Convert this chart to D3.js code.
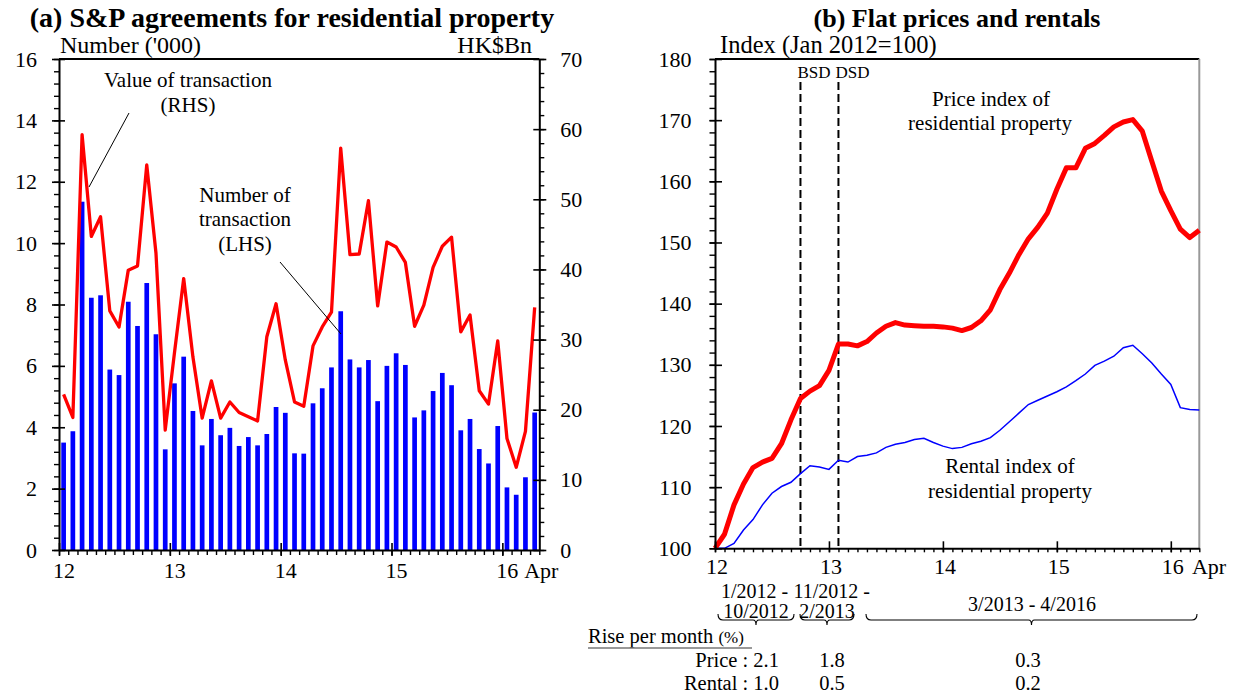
<!DOCTYPE html>
<html>
<head>
<meta charset="utf-8">
<script src="https://cdn.jsdelivr.net/npm/d3@7"></script>
<style>
  body { margin: 0; background: #fff; }
  svg text { font-family: "Liberation Serif", "Times New Roman", serif; fill: #000; }
</style>
</head>
<body>
<svg id="chart" width="1235" height="695"></svg>
<script>
// Monthly observations, Jan 2012 – Apr 2016
const months = d3.timeMonth.range(new Date(2012, 0, 1), new Date(2016, 4, 1));
const yearLabels = ["12", "13", "14", "15", "16"];

// (a) Number of S&P agreements ('000, LHS)
const transNumber = [
  3.50, 3.87, 11.35, 8.22, 8.30, 5.88, 5.70, 8.09, 7.30, 8.70, 7.03, 3.28,
  5.43, 6.30, 4.53, 3.41, 4.27, 3.74, 3.98, 3.39, 3.68, 3.41, 3.78, 4.66,
  4.47, 3.15, 3.14, 4.78, 5.27, 5.95, 7.78, 6.21, 5.95, 6.19, 4.85, 6.00,
  6.41, 6.03, 4.32, 4.55, 5.18, 5.77, 5.37, 3.90, 4.27, 3.29, 2.82, 4.04,
  2.04, 1.80, 2.37, 4.48
];
// (a) Value of S&P agreements (HK$Bn, RHS)
const transValue = [
  22.2, 18.9, 59.2, 44.7, 47.5, 34.1, 31.8, 39.9, 40.5, 54.9, 42.3, 17.1,
  28.1, 38.7, 27.5, 18.8, 24.1, 18.8, 21.1, 19.6, 19.0, 18.4, 30.4, 35.1,
  27.1, 21.1, 20.5, 29.1, 31.8, 33.9, 57.3, 42.1, 42.2, 49.8, 34.8, 43.9,
  43.2, 41.0, 31.9, 34.9, 40.3, 43.3, 44.6, 31.1, 33.5, 22.7, 20.8, 29.8,
  15.9, 11.8, 16.9, 34.6
];
// (b) Price index of residential property (Jan 2012 = 100)
const priceIndex = [
  100.0, 102.3, 107.1, 110.5, 113.2, 114.1, 114.7, 117.1, 121.0, 124.5, 125.7, 126.6,
  129.1, 133.4, 133.4, 133.1, 133.8, 135.2, 136.3, 136.9, 136.5, 136.4, 136.3, 136.3,
  136.2, 136.0, 135.6, 136.1, 137.2, 139.0, 142.3, 145.0, 148.0, 150.6, 152.5, 154.8,
  158.7, 162.2, 162.2, 165.4, 166.2, 167.5, 168.9, 169.7, 170.1, 168.2, 163.3, 158.4,
  155.2, 152.2, 150.8, 152.0
];
// (b) Rental index of residential property (Jan 2012 = 100)
const rentalIndex = [
  100.0, 100.0, 100.8, 103.0, 104.7, 107.1, 109.0, 110.1, 110.8, 112.2, 113.5, 113.3,
  112.9, 114.4, 114.1, 115.0, 115.2, 115.6, 116.5, 117.0, 117.3, 117.8, 118.0, 117.3,
  116.7, 116.3, 116.5, 117.1, 117.5, 118.1, 119.3, 120.7, 122.1, 123.5, 124.2, 124.9,
  125.6, 126.4, 127.4, 128.5, 129.9, 130.6, 131.4, 132.8, 133.2, 131.8, 130.3, 128.5,
  126.8, 123.0, 122.7, 122.6
];

const numberTicks = [0, 2, 4, 6, 8, 10, 12, 14, 16];
const valueTicks = [0, 10, 20, 30, 40, 50, 60, 70];
const indexTicks = [100, 110, 120, 130, 140, 150, 160, 170, 180];

// Stamp duty measures (month index from Jan 2012)
const measures = [{ name: "BSD", month: 9 }, { name: "DSD", month: 13 }];

// Average monthly rise over each period (%)
const periodFrom = ["1/2012 -", "11/2012 -"];
const periodTo = ["10/2012", "2/2013"];
const periodLong = "3/2013 - 4/2016";
const priceRise = ["2.1", "1.8", "0.3"];
const rentalRise = ["1.0", "0.5", "0.2"];

const FONT = '"Liberation Serif", "Times New Roman", serif';
const svg = d3.select("#chart");

function styleAxis(g, size) {
  g.attr("font-family", FONT).attr("font-size", size);
  g.selectAll("text").attr("fill", "#000");
  g.select(".domain").attr("stroke", "#000").attr("stroke-width", 2);
  g.selectAll(".tick line").attr("stroke", "#000").attr("stroke-width", 1.6);
}
function minorAxis(g) {
  g.select(".domain").remove();
  g.selectAll(".tick line").attr("stroke", "#000").attr("stroke-width", 1.4);
}

// ---------------- Panel (a) ----------------
const xa = d3.scaleLinear().domain([0, months.length]).range([59, 539.3]);
const ya = d3.scaleLinear().domain([0, 16]).range([550, 59]);
const yaR = d3.scaleLinear().domain([0, 70]).range([550, 59]);
const ga = svg.append("g");

ga.append("text").attr("x", 292).attr("y", 27).attr("text-anchor", "middle")
  .attr("font-size", 28).attr("font-weight", "bold")
  .text("(a) S&P agreements for residential property");
ga.append("text").attr("x", 60).attr("y", 53).attr("font-size", 24).text("Number ('000)");
ga.append("text").attr("x", 532).attr("y", 53).attr("text-anchor", "end").attr("font-size", 24).text("HK$Bn");

const barW = 4.7;
ga.selectAll("rect.bar").data(transNumber).join("rect").attr("class", "bar")
  .attr("x", (d, i) => xa(i + 0.5) - barW / 2)
  .attr("y", d => ya(d))
  .attr("width", barW)
  .attr("height", d => ya(0) - ya(d))
  .attr("fill", "#0000ff");

ga.append("path").datum(transValue)
  .attr("d", d3.line().x((d, i) => xa(i + 0.5)).y(d => yaR(d)))
  .attr("fill", "none").attr("stroke", "#ff0000").attr("stroke-width", 3.3)
  .attr("stroke-linejoin", "round");

// frame top
ga.append("line").attr("x1", 59).attr("x2", 539.3).attr("y1", 59).attr("y2", 59)
  .attr("stroke", "#000").attr("stroke-width", 2);

// left axis
ga.append("g").attr("transform", "translate(59,0)")
  .call(d3.axisLeft(ya).tickValues(d3.range(0, 16.01, 0.4)).tickSize(5).tickFormat(""))
  .call(minorAxis);
ga.append("g").attr("transform", "translate(59,0)")
  .call(d3.axisLeft(ya).tickValues(numberTicks).tickSize(7).tickSizeOuter(0).tickPadding(15))
  .call(g => styleAxis(g, 22))
  .call(g => g.selectAll(".tick line").attr("x1", 6));
// right axis
ga.append("g").attr("transform", "translate(539.3,0)")
  .call(d3.axisRight(yaR).tickValues(d3.range(0, 70.1, 2)).tickSize(5).tickFormat(""))
  .call(minorAxis);
ga.append("g").attr("transform", "translate(539.3,0)")
  .call(d3.axisRight(yaR).tickValues(valueTicks).tickSize(7).tickSizeOuter(0).tickPadding(14))
  .call(g => styleAxis(g, 22))
  .call(g => g.selectAll(".tick line").attr("x1", -6));
// bottom axis
ga.append("g").attr("transform", "translate(0,550)")
  .call(d3.axisBottom(xa).tickValues(d3.range(0, months.length + 1)).tickSize(5).tickFormat(""))
  .call(minorAxis);
ga.append("g").attr("transform", "translate(0,550)")
  .call(d3.axisBottom(xa).tickValues([0, 12, 24, 36, 48]).tickSize(6).tickSizeOuter(0).tickPadding(6)
    .tickFormat((d, i) => yearLabels[i]))
  .call(g => styleAxis(g, 22))
  .call(g => g.selectAll(".tick line").attr("y1", -7))
  .call(g => g.selectAll(".tick text").attr("dx", 4.5));
ga.append("text").attr("x", xa(months.length) + 2).attr("y", 578).attr("text-anchor", "middle")
  .attr("font-size", 22).text("Apr");

// annotations
const annA = [
  ["Value of transaction", 188, 87], ["(RHS)", 188, 112],
  ["Number of", 245, 202], ["transaction", 245, 226], ["(LHS)", 245, 251]
];
annA.forEach(([t, x, y]) => ga.append("text").attr("x", x).attr("y", y)
  .attr("text-anchor", "middle").attr("font-size", 21).text(t));
ga.append("line").attr("x1", 129).attr("y1", 113).attr("x2", 89).attr("y2", 187).attr("stroke", "#000").attr("stroke-width", 1);
ga.append("line").attr("x1", 280).attr("y1", 262).attr("x2", 341).attr("y2", 334).attr("stroke", "#000").attr("stroke-width", 1);

// ---------------- Panel (b) ----------------
const xb = d3.scaleLinear().domain([0, months.length - 1]).range([715, 1199.3]);
const yb = d3.scaleLinear().domain([100, 180]).range([548.3, 59]);
const gb = svg.append("g");

gb.append("text").attr("x", 957).attr("y", 27).attr("text-anchor", "middle")
  .attr("font-size", 26).attr("font-weight", "bold").text("(b) Flat prices and rentals");
gb.append("text").attr("x", 720).attr("y", 53).attr("font-size", 24.5).text("Index (Jan 2012=100)");

// frame
gb.append("line").attr("x1", 715).attr("x2", 1199.3).attr("y1", 59).attr("y2", 59)
  .attr("stroke", "#000").attr("stroke-width", 2);
gb.append("line").attr("x1", 1199.3).attr("x2", 1199.3).attr("y1", 59).attr("y2", 548.3)
  .attr("stroke", "#999").attr("stroke-width", 2);

// stamp duty markers
measures.forEach(m => {
  gb.append("line").attr("x1", xb(m.month)).attr("x2", xb(m.month)).attr("y1", 82).attr("y2", 548)
    .attr("stroke", "#000").attr("stroke-width", 2).attr("stroke-dasharray", "8,4");
  gb.append("text").attr("x", xb(m.month) - 3).attr("y", 78).attr("font-size", 17).text(m.name);
});

gb.append("path").datum(rentalIndex)
  .attr("d", d3.line().x((d, i) => xb(i)).y(d => yb(d)))
  .attr("fill", "none").attr("stroke", "#0000ff").attr("stroke-width", 1.5);
gb.append("path").datum(priceIndex)
  .attr("d", d3.line().x((d, i) => xb(i)).y(d => yb(d)))
  .attr("fill", "none").attr("stroke", "#ff0000").attr("stroke-width", 5)
  .attr("stroke-linejoin", "round");

// left axis
gb.append("g").attr("transform", "translate(715,0)")
  .call(d3.axisLeft(yb).tickValues(d3.range(100, 180.1, 2)).tickSize(5.5).tickFormat(""))
  .call(minorAxis);
gb.append("g").attr("transform", "translate(715,0)")
  .call(d3.axisLeft(yb).tickValues(indexTicks).tickSize(5.5).tickSizeOuter(0).tickPadding(18))
  .call(g => styleAxis(g, 22))
  .call(g => g.selectAll(".tick line").attr("x1", 7));
// bottom axis
gb.append("g").attr("transform", "translate(0,548.3)")
  .call(d3.axisBottom(xb).tickValues(d3.range(0, months.length)).tickSize(4).tickFormat(""))
  .call(minorAxis);
gb.append("g").attr("transform", "translate(0,548.3)")
  .call(d3.axisBottom(xb).tickValues([0, 12, 24, 36, 48]).tickSize(4).tickSizeOuter(0).tickPadding(6)
    .tickFormat((d, i) => yearLabels[i]))
  .call(g => styleAxis(g, 22))
  .call(g => g.selectAll(".tick line").attr("y1", -7))
  .call(g => g.selectAll(".tick text").attr("dx", 1.5));
gb.append("text").attr("x", 1209).attr("y", 574).attr("text-anchor", "middle").attr("font-size", 22).text("Apr");

// series labels
const annB = [
  ["Price index of", 991, 106], ["residential property", 990, 130],
  ["Rental index of", 1010, 473], ["residential property", 1010, 498]
];
annB.forEach(([t, x, y]) => gb.append("text").attr("x", x).attr("y", y)
  .attr("text-anchor", "middle").attr("font-size", 21).text(t));

// period braces and rates
const braces = [[718, 794], [800, 854], [866, 1197]];
braces.forEach(([a, b]) => {
  const m = (a + b) / 2, yl = 620;
  gb.append("path")
    .attr("d", `M${a},${yl - 6} Q${a},${yl} ${a + 5},${yl} H${m - 3} Q${m},${yl} ${m},${yl + 5} Q${m},${yl} ${m + 3},${yl} H${b - 5} Q${b},${yl} ${b},${yl - 6}`)
    .attr("fill", "none").attr("stroke", "#000").attr("stroke-width", 1.1);
});
const colX = [756, 827, 1032];
gb.append("text").attr("x", 721).attr("y", 598).attr("font-size", 20).text(periodFrom[0]);
gb.append("text").attr("x", 870).attr("y", 598).attr("text-anchor", "end").attr("font-size", 20).text(periodFrom[1]);
gb.append("text").attr("x", colX[0]).attr("y", 618).attr("text-anchor", "middle").attr("font-size", 20).text(periodTo[0]);
gb.append("text").attr("x", colX[1]).attr("y", 618).attr("text-anchor", "middle").attr("font-size", 20).text(periodTo[1]);
gb.append("text").attr("x", colX[2]).attr("y", 611).attr("text-anchor", "middle").attr("font-size", 20).text(periodLong);

const rise = gb.append("text").attr("x", 588).attr("y", 643).attr("font-size", 20.5);
rise.append("tspan").text("Rise per month ");
rise.append("tspan").attr("font-size", 17).text("(%)");
gb.append("line").attr("x1", 588).attr("x2", 752).attr("y1", 648).attr("y2", 648)
  .attr("stroke", "#777").attr("stroke-width", 1.5);

gb.append("text").attr("x", 779).attr("y", 667).attr("text-anchor", "end").attr("font-size", 20.5).text("Price : " + priceRise[0]);
gb.append("text").attr("x", 779).attr("y", 690).attr("text-anchor", "end").attr("font-size", 20.5).text("Rental : " + rentalRise[0]);
[1, 2].forEach(i => {
  const x = colX[i] + (i === 1 ? 5 : -4);
  gb.append("text").attr("x", x).attr("y", 667).attr("text-anchor", "middle").attr("font-size", 20.5).text(priceRise[i]);
  gb.append("text").attr("x", x).attr("y", 690).attr("text-anchor", "middle").attr("font-size", 20.5).text(rentalRise[i]);
});
</script>
</body>
</html>
